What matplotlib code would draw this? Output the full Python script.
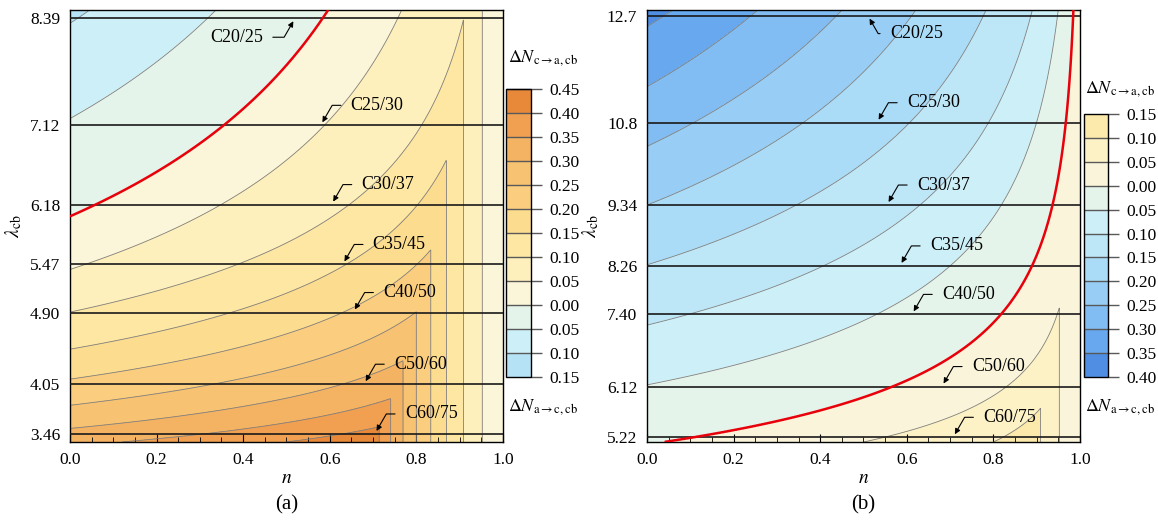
import numpy as np
import matplotlib.pyplot as plt
from matplotlib.ticker import MultipleLocator

plt.rcParams["font.family"] = ["Liberation Serif", "DejaVu Serif"]
plt.rcParams["mathtext.fontset"] = "stix"
plt.rcParams["contour.negative_linestyle"] = "solid"

# concrete classes and the lambda_cb line of each class
classes = ["C20/25", "C25/30", "C30/37", "C35/45", "C40/50", "C50/60", "C60/75"]
lam_a = [8.39, 7.12, 6.18, 5.47, 4.90, 4.05, 3.46]
lam_b = [12.7, 10.8, 9.34, 8.26, 7.40, 6.12, 5.22]
ticks_a = ["8.39", "7.12", "6.18", "5.47", "4.90", "4.05", "3.46"]
ticks_b = ["12.7", "10.8", "9.34", "8.26", "7.40", "6.12", "5.22"]

# contour levels: lambda where a level meets n = 0
# and how fast that level bends upward with n
lev_a = [-0.20, -0.15, -0.10, -0.05, 0.00, 0.05, 0.10, 0.15, 0.20, 0.25, 0.30, 0.35, 0.40, 0.45, 0.50]
lam0_a = [10.7, 9.48, 8.33, 7.20, 6.04, 5.41, 4.905, 4.465, 4.11, 3.80, 3.525, 3.315, 3.155, 3.0, 2.85]
q_a = [0.40, 0.40, 0.40, 0.40, 0.375, 0.31, 0.223, 0.20, 0.177, 0.159, 0.14, 0.1165, 0.093, 0.08, 0.07]

lev_b = [-0.45, -0.40, -0.35, -0.30, -0.25, -0.20, -0.15, -0.10, -0.05, 0.00, 0.05, 0.10, 0.15, 0.20]
lam0_b = [14.6, 13.57, 12.505, 11.44, 10.38, 9.34, 8.28, 7.21, 6.15, 5.09, 4.59, 4.10, 3.6, 3.1]
q_b = [0.38, 0.38, 0.377, 0.38, 0.35, 0.325, 0.285, 0.26, 0.245, 0.22, 0.162, 0.14, 0.12, 0.10]

# colour bands (bottom to top) of the two colour bars
bounds_a = np.round(np.arange(-0.15, 0.451, 0.05), 2)
colors_a = ["#b5e2f5", "#cdf0f8", "#e4f4ea", "#fbf5d9", "#fef0bc", "#fde7a3",
            "#fcdc8f", "#face7e", "#f7c271", "#f4b362", "#f0a050", "#e8893a"]
bounds_b = np.round(np.arange(-0.40, 0.151, 0.05), 2)
colors_b = ["#4f8ee3", "#68a8ef", "#81bdf3", "#98cef5", "#aadcf7", "#bde6f7",
            "#cdf0f8", "#e4f4ea", "#faf5da", "#fdf2c6", "#fce9ac"]

# arrow tips (n) of the class labels
tip_a = [0.520, 0.579, 0.604, 0.630, 0.654, 0.679, 0.704]
tip_b = [0.510, 0.531, 0.554, 0.584, 0.612, 0.681, 0.707]


def field(n, lam, lev, lam0, q):
    N, L = np.meshgrid(n, lam)
    lev = np.array(lev)
    lam0 = np.array(lam0)
    q = np.array(q)
    one_m = np.clip(1 - n, 1e-6, None)
    curves = lam0[:, None] * one_m[None, :] ** (-q[:, None])
    g = np.empty_like(N)
    for j in range(len(n)):
        g[:, j] = np.interp(lam, curves[::-1, j], lev[::-1])
    h = np.full_like(N, np.inf)
    h[N > 0] = (1 - N[N > 0]) / N[N > 0]
    h = np.maximum(h, 1e-4)
    return N, L, np.minimum(g, h)


def label(ax, name, n_tip, lam, kind="down"):
    px = 0.72
    arrow = dict(arrowstyle="-|>", color="k", lw=0.8, mutation_scale=8,
                 shrinkA=5, shrinkB=2.5,
                 connectionstyle="angle,angleA=0,angleB=60,rad=0")
    if kind == "up_right":
        # text below the line, arrow on its right pointing up
        arrow["relpos"] = (1, 0.5)
        ax.annotate(name, xy=(n_tip, lam), xytext=(-32 * px, -19 * px),
                    textcoords="offset points", ha="right", va="center",
                    fontsize=13, arrowprops=arrow, zorder=6)
    elif kind == "up_left":
        # text below the line, arrow on its left pointing up
        arrow["relpos"] = (0, 0.5)
        arrow["connectionstyle"] = "angle,angleA=0,angleB=120,rad=0"
        ax.annotate(name, xy=(n_tip, lam), xytext=(22 * px, -18 * px),
                    textcoords="offset points", ha="left", va="center",
                    fontsize=13, arrowprops=arrow, zorder=6)
    else:
        arrow["relpos"] = (0, 0.5)
        ax.annotate(name, xy=(n_tip, lam), xytext=(30 * px, 20 * px),
                    textcoords="offset points", ha="left", va="center",
                    fontsize=13, arrowprops=arrow, zorder=6)


def panel(ax, cax, lev, lam0, q, lines, ticks, tips, ylim, bounds, colors, first):
    n = np.linspace(0, 1, 900)
    lam = np.linspace(ylim[0], ylim[1], 700)
    N, L, F = field(n, lam, lev, lam0, q)
    F = np.clip(F, bounds[0] + 1e-4, bounds[-1] - 1e-4)

    cs = ax.contourf(N, L, F, levels=bounds, colors=colors)
    ax.contour(N, L, F, levels=[b for b in bounds if abs(b) > 1e-9],
               colors="0.5", linewidths=0.6)
    for y in lines:
        ax.axhline(y, color="#1a1a1a", lw=1.2, zorder=3)
    ax.contour(N, L, F, levels=[0], colors="#e8000b", linewidths=1.8, zorder=4)

    for i, name in enumerate(classes):
        label(ax, name, tips[i], lines[i], kind=first if i == 0 else "down")

    ax.set_xlim(0, 1)
    ax.set_ylim(ylim)
    ax.set_yticks(lines, ticks)
    ax.xaxis.set_major_locator(MultipleLocator(0.2))
    ax.xaxis.set_minor_locator(MultipleLocator(0.05))
    ax.tick_params(axis="x", which="major", direction="in", length=6, labelsize=12.5, pad=7)
    ax.tick_params(axis="x", which="minor", direction="in", length=3.5)
    ax.tick_params(axis="y", length=0, labelsize=12.5, pad=7)
    ax.set_xlabel("$n$", fontsize=14, labelpad=2)
    ax.set_ylabel(r"$\lambda_{\mathrm{cb}}$", fontsize=14, labelpad=4)
    for s in ax.spines.values():
        s.set_linewidth(1.0)

    cb = plt.colorbar(cs, cax=cax, ticks=bounds, drawedges=True)
    cb.ax.set_yticklabels(["%.2f" % abs(b) for b in bounds])
    cb.ax.tick_params(length=8, width=1, color="0.35", labelsize=12.5, pad=5)
    cb.dividers.set_color("0.35")
    cb.dividers.set_linewidth(1)
    cb.outline.set_linewidth(1)


fig = plt.figure(figsize=(11.58, 5.22), dpi=100)
ax1 = fig.add_axes([0.0604, 0.1533, 0.3739, 0.8276])
cax1 = fig.add_axes([0.437, 0.2778, 0.0216, 0.5517])
ax2 = fig.add_axes([0.5587, 0.1533, 0.3739, 0.8276])
cax2 = fig.add_axes([0.9361, 0.2778, 0.0207, 0.5038])

panel(ax1, cax1, lev_a, lam0_a, q_a, lam_a, ticks_a, tip_a, (3.365, 8.488),
      bounds_a, colors_a, "up_right")
panel(ax2, cax2, lev_b, lam0_b, q_b, lam_b, ticks_b, tip_b, (5.137, 12.80),
      bounds_b, colors_b, "up_left")

# colour bar titles
fig.text(0.4387, 0.889, r"$\Delta N_{\mathrm{c\rightarrow a,cb}}$", fontsize=13, va="center")
fig.text(0.4387, 0.221, r"$\Delta N_{\mathrm{a\rightarrow c,cb}}$", fontsize=13, va="center")
fig.text(0.9370, 0.830, r"$\Delta N_{\mathrm{c\rightarrow a,cb}}$", fontsize=13, va="center")
fig.text(0.9370, 0.221, r"$\Delta N_{\mathrm{a\rightarrow c,cb}}$", fontsize=13, va="center")

fig.text(0.2474, 0.033, "(a)", ha="center", va="center", fontsize=15)
fig.text(0.7457, 0.033, "(b)", ha="center", va="center", fontsize=15)

fig.savefig("out.png", dpi=100)
